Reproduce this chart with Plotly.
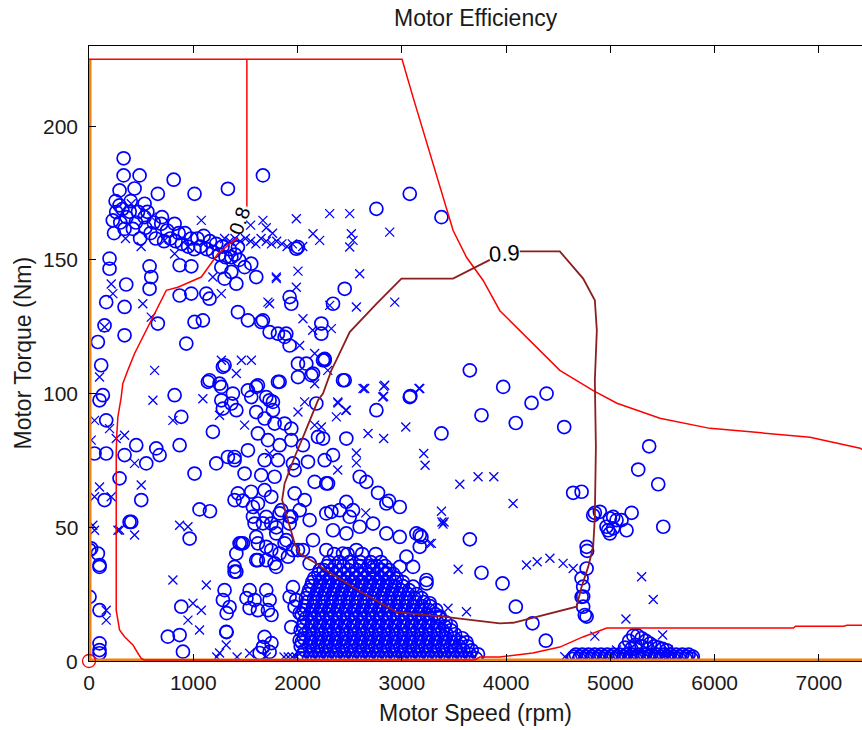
import plotly.graph_objects as go

# ---------------- data (speed rpm, torque Nm) ----------------
circ_top = [(332,188),(332,181.6),(485,181.6),(812,180),(1668,181.6),(1332,176.6),(1012,174.7),(660,174.7),
            (293,176),(437,176.7),(293,170.4),(533,171),(3076,174.7),(3380,166),(2756,169.1),(197,150.5),
            (197,146.7),(581,147.6),(357,140.8),(581,139.2),(869,148),(981,147.6),(1269,147.3),(1365,151),
            (1428,154.8),(1492,147.3),(1556,148.6),(1604,143.6),(1365,145.5),(1413,141.1),(1300,143),(597,143.6),
            (2004,154.8),(1988,154.2),(2452,139.2),(869,136.7),(981,137.4),(1125,137.4),(1156,135.5)]

circ_band = [(228,164.8),(261,167.9),(240,160),(255,172),(300,164),(320,169),(341,161.6),(360,166),(390,168),
             (400,172),(421,161.6),(450,164),(470,168),(490,158),(533,166),(540,162),(560,168),(590,160),
             (620,164),(640,158),(693,163.5),(700,166),(720,157),(750,161),(780,158),(821,163.5),(830,157),
             (860,160),(890,156),(920,160),(950,155),(980,158),(1010,154),(1040,158),(1070,155),(1100,159),
             (1130,154),(1160,157),(1190,153),(1220,156),(1250,152),(1280,155),(1310,151),(1350,154),
             (1400,152),(1440,150)]

circ_mid = [(165,134.2),(341,132.4),(660,126.2),(1924,136.1),(1940,133.6),(1428,130.5),(1524,127.4),(1652,126.8),
            (1732,123),(1812,122.4),(1876,121.2),(1924,118),(1012,126.8),(1092,127.4),(933,118.7),(85,119.3),
            (341,121.8),(149,125.5),(2340,133.6),(1668,127.4),(1892,122.4),(2228,126.2),(2228,122.4),(3652,108.7),
            (2004,111.2),(2084,111.2),(2244,112.5),(2436,105),(2148,107.5),(1828,104.4),(2004,106.2),(1284,110),
            (1156,105),(1252,103.7),(1380,100),(1604,102.5),(1556,98.7),(1732,97.5),(1764,93.8),(1604,93.1),
            (1413,93.8),(3076,98.7),(2756,93.8),(2180,96.3),
            (117,110.6),(133,99.4),(101,97.5),(165,90),(53,77.6),(165,77.6),(341,77),(453,80.7),(549,73.9),
            (645,79.5),(677,77),(293,68.3),(501,60.2),(149,60.2),(405,52),(5,41.5),(85,40.2),(101,35.9),
            (821,99.4),(885,91.3),(1188,85.7),(869,80.7),(1012,70.1),(1060,56.7),(965,45.8),(1221,73.9),
            (1332,76.3),(1396,76.3),(1300,110.6),(1140,104.4),(1269,102.5),(1269,97.5),(1365,96.3),(1284,94.4),
            (1524,101.2),(1620,103.1),(1812,104.4),(2260,112.5),(2132,106.9),(1700,98.7),(1764,96.9),(1684,90.7),
            (1780,88.8),(1876,88.8),(1940,86.9),(1620,85.1),(1716,82.6),(1828,80.7),(1940,82.6),(2052,80.7),
            (2196,83.8),(2244,83.2),(1524,78.8),(1396,75.1),(1684,75.1),(1812,75.1),(1956,73.9),(2100,74.5),
            (2260,75.1),(1492,70.1),(1652,69.5),(1780,68.9),(1972,71.4),(2164,67),(2292,66.4),(1428,62.7),
            (1556,63.3),(1684,63.9),(1748,61.4),(1972,62.7),(2068,60.2),(1396,60.2),(1620,58.9),(1844,56.4),
            (1940,53.9),(1588,51.4),(1748,51.4),(1460,44),(1620,44),(1748,41.5),(1876,44),(1908,39),(1620,37.7),
            (1396,35.2),(1780,36.5),(2004,41.5),(1160,56)]

circ_right = [(3972,102.5),(4388,100),(4244,96.5),(3764,91.9),(4093,89),(4557,87.5),(3380,85.1),(3082,99.1),
              (2452,105),(2260,113),(2468,83.2),(2340,77),(2596,68.9),(2660,67),(2772,62.9),(2877,59.9),
              (2276,66.4),(4643,62.9),(4724,63.3),(4851,55.4),(4899,55.8),(4995,53.3),(5027,49.6),(4979,48.9),
              (3652,45.5),(3172,47.1),(2468,59.5),(2532,56.4),(2324,55.8),(4772,42.7),
              (5372,80.3),(5267,71.6),(5459,66.1),(4835,54.5),(5027,53.9),(5107,52.7),(5204,55.4),(4963,50.2),
              (4995,47.7),(5155,48.9),(5507,50.2),(4777,41.2),(4772,34.6),(4724,30.9),(4739,27.8),(4739,24.1),
              (4739,20.3),(4755,17.2),(5059,52.7),
              (3764,33),(3966,29),(4093,20.3),(4253,14.1),(4381,7.6),(4724,24),(4772,16.6),(3236,29),(3188,46.4)]

circ_low = [(389,52),(21,42.1),(101,35.2),(1396,33.4),(5,24),(101,19),(885,20.3),(756,9.1),(869,9.7),(1316,10.9),
            (901,3.5),(101,6.6),(101,4.1),(101,2.9),(1668,5.2),(1924,24),(1972,20.3),(1572,54),(1668,51.5),
            (1796,50),(1924,54),
            (1300,26.5),(1284,22.8),(1348,20.2),(1320,17.9),(1540,26.5),(1510,23.5),(1588,22.8),(1540,19.8),
            (1620,19),(1700,26.5),(1732,22.8),(1716,19),(1750,17.2),(1320,10.8),(1684,9),(1750,6.7),(1668,5.2),
            (1732,3.4),(1636,3),(1956,27.6),(1988,22.8),(2020,17.9),(1940,12.7),(2020,7.8),(1444,44),(1413,33.4),
            (1700,53.9),(1828,55.2),(1924,51.4),(1796,47.7),(1892,45.2),(1700,42.7),(1828,40.2),(1956,41.5),
            (1700,37.7),(1796,35.2),(2020,56.4),(2116,52.7),(2276,55.2),(2404,56.4),(2500,53.9),(2340,48.9),
            (2468,47.7),(2596,50.2),(2724,51.4),(2852,47.7),(2980,46.4),(3140,47.7),(3172,42.7),(3044,39),
            (2980,35.2),(2852,32.8),(2724,35.2),(2564,41.5),(2436,40.2),(2276,41.5),(2148,45.2),(2052,41.5),
            (2116,36.5),(2212,34),(1604,46.4),(1476,44),(1413,40.2),(1604,37.7),(3108,35.2),(3236,30.3),
            (3108,27.8),(3268,21.6),(3364,16.6),(2852,58.9),(2980,57.6),(1476,60),(1572,57.6)]

# dense core around 2000-3700 rpm: torque row -> speeds
core_rows = [
    (1.0, [2030,2110,2190,2270,2350,2430,2510,2590,2670,2750,2830,2910,2990,3070,3150,3230,3310,3390,3470,3550,3630,3710]),
    (2.5, [2050,2130,2210,2290,2370,2450,2530,2610,2690,2770,2850,2930,3010,3090,3170,3250,3330,3410,3490,3570,3650,3730]),
    (4.0, [2070,2150,2230,2310,2390,2470,2550,2630,2710,2790,2870,2950,3030,3110,3190,3270,3350,3430,3510,3590,3670]),
    (5.5, [2030,2110,2190,2270,2350,2430,2510,2590,2670,2750,2830,2910,2990,3070,3150,3230,3310,3390,3470,3550,3630]),
    (7.0, [2040,2120,2200,2280,2360,2440,2520,2600,2680,2760,2840,2920,3000,3080,3160,3240,3320,3400,3480,3560,3620]),
    (8.5, [2060,2140,2220,2300,2380,2460,2540,2620,2700,2780,2860,2940,3020,3100,3180,3260,3340,3420,3500,3580]),
    (10.0, [2070,2150,2230,2310,2390,2470,2550,2630,2710,2790,2870,2950,3030,3110,3190,3270,3350,3430,3510]),
    (11.5, [2030,2110,2190,2270,2350,2430,2510,2590,2670,2750,2830,2910,2990,3070,3150,3230,3310,3390,3470]),
    (13.0, [2050,2130,2210,2290,2370,2450,2530,2610,2690,2770,2850,2930,3010,3090,3170,3250,3330,3410,3470]),
    (14.5, [2060,2140,2220,2300,2380,2460,2540,2620,2700,2780,2860,2940,3020,3100,3180,3260,3340,3420]),
    (16.0, [2080,2160,2240,2320,2400,2480,2560,2640,2720,2800,2880,2960,3040,3120,3200,3280,3360]),
    (17.5, [2040,2120,2200,2280,2360,2440,2520,2600,2680,2760,2840,2920,3000,3080,3160,3240,3320]),
    (19.0, [2060,2140,2220,2300,2380,2460,2540,2620,2700,2780,2860,2940,3020,3100,3180,3260,3330]),
    (20.5, [2070,2150,2230,2310,2390,2470,2550,2630,2710,2790,2870,2950,3030,3110,3190,3270]),
    (22.0, [2090,2170,2250,2330,2410,2490,2570,2650,2730,2810,2890,2970,3050,3130,3210]),
    (23.5, [2080,2160,2240,2320,2400,2480,2560,2640,2720,2800,2880,2960,3040,3120,3190]),
    (25.0, [2100,2180,2260,2340,2420,2500,2580,2660,2740,2820,2900,2980,3060,3140]),
    (26.5, [2110,2190,2270,2350,2430,2510,2590,2670,2750,2830,2910,2990,3070]),
    (28.0, [2130,2210,2290,2370,2450,2530,2610,2690,2770,2850,2930,3010]),
    (29.5, [2140,2220,2300,2380,2460,2540,2620,2700,2780,2860,2940,3010]),
    (31.0, [2160,2240,2320,2400,2480,2560,2640,2720,2800,2880,2950]),
    (32.5, [2200,2280,2360,2440,2520,2600,2680,2760,2840,2920]),
    (34.0, [2250,2330,2410,2490,2570,2650,2730,2810,2880]),
    (35.5, [2280,2360,2440,2520,2600,2680,2760,2840]),
    (37.0, [2300,2400,2500,2600,2700,2800]),
    (40.0, [2350,2480,2620,2750]),
]

# dense band 4600-5800 rpm near zero torque
band_rows = [
    (0.8, [4640,4700,4760,4820,4880,4940,5000,5060,5120,5180,5240,5300,5360,5420,5480,5540,5600,5660,5720,5780]),
    (1.6, [4650,4710,4770,4830,4890,4950,5010,5070,5130,5190,5250,5310,5370,5430,5490,5550,5610,5670,5730,5790]),
    (2.4, [4670,4730,4790,4850,4910,4970,5030,5090,5150,5210,5270,5330,5390,5450,5510,5570,5630,5690,5750]),
]
band_bump = [(5140,5),(5180,7.5),(5220,9.5),(5260,9.5),(5300,8.5),(5340,7.5),(5380,6.5),(5420,5.5),(5460,5),
             (5500,4.5),(5540,4),(5240,6),(5300,5.5),(5200,4.5),(5360,4.5)]

cross_pts = [(1300,158),(1350,157),(1400,158),(1450,157),(1500,158),(1550,157),(1600,156),(1650,158),(1700,157),
             (1750,156),(1800,157),(1850,156),(1900,155),(1950,156),(2050,155),(1550,163),(1700,162),(1760,160),
             (1077,164.8),(1668,164.8),(1988,165.4),(2308,167.3),(2500,167.3),(2148,159.8),(2212,157.3),
             (2516,159.8),(2532,157.3),(2500,154.8),(2884,160.4),(725,157.3),(821,152.3),(949,155),(405,171),
             (600,166),(350,158),(500,155),
             (2596,144.8),(2004,145.8),(1797,143),(1988,139.8),(1716,134.2),(2564,132.4),(2932,134.2),(2052,128),
             (2324,124.3),(2145,123.7),(2020,118),(1269,112.5),(1461,112.5),(1557,112.5),(1413,107.5),(1092,98.1),
             (2644,101.9),(2836,103.1),(2817,98.7),(3172,101.9),(2385,96.9),(2468,93.8),(2372,91.3),(2290,108.7),
             (1796,143.6),(1732,133.6),(516,133.6),(213,141),(229,137.4),(1188,143.6),(1269,137.4),(149,124.9),
             (597,128.6),(2308,133),
             (629,108.7),(613,97.5),(101,106.2),(53,90),(21,82.6),(197,86.9),(261,83.2),(341,84.4),(437,73.9),
             (101,65.1),(53,61.4),(213,61.4),(501,65.8),(277,48.9),(437,47.1),(37,50.8),(53,48.9),(869,50.8),
             (949,50.2),(805,90),(1492,88.2),(2004,93.1),(2068,96.9),(2164,103.7),(2164,115),(1252,91.9),
             (1732,77.6),(2164,88.2),(2228,87.5),
             (2628,101.9),(2826,102.7),(2826,99),(3165,101.9),(2388,96.5),(2462,93.8),(2676,85.1),
             (2826,83.2),(3038,87.5),(2564,77.8),(2564,74.1),(3210,77.6),(3223,73.2),(3556,66.1),(3731,68.9),
             (3882,68.9),(4067,58.9),(3380,56),(3385,52),(3395,51.2),(3405,52),(2385,71.4),(2654,55.4),(3268,44),
             (4196,35.9),(4298,37.1),(4420,38.4),(4547,36.5),(4643,34.6),(5300,31.5),(5411,23),(5149,15.7),
             (4851,9.3),(5501,9.7),(5555,4.1),(5059,4.1),(3540,34.3),(3620,18.4),(3443,19.7),(3284,44),(4563,1.6),
             (293,49),(805,30.3),(1125,28.4),(997,21.6),(1077,19),(949,15.3),(1060,11.6),(165,19),(165,15.3),
             (1252,3),(1316,6),(1540,2.9),(1870,1.5),(1910,1.5),(1950,1.5),(1990,1.5),(1225,1.5),(1420,1.5),(1700,1.5)]

# contour lines (speed, torque)
c08_outer = [(0,225),(3002,225),(3108,210.8),(3204,198.4),(3300,186),(3428,168.5),(3492,161),(3620,151),
             (3780,142.3),(3940,131),(4131,123.7),(4515,108.7),(4832,101.2),(5063,96.4),(5475,90.8),
             (5955,87),(6368,85.6),(6915,83.7),(7395,79.6),(7500,77)]
c08_vert = [(1514,225),(1514,170)]
c08_inner = [(1428,158.5),(1236,152.3),(1077,143.6),(852,139.8),(741,138.6),(677,133.6),(597,127.4),(516,121.2),
             (437,115),(372,108.7),(324,103.7),(309,98.7),(277,91.3),(267,85.1),(261,78),(261,19),(293,11.6),
             (341,9.1),(421,6),(469,2.9),(501,1),(530,0.4),(3700,0.4),(3747,1.5),(3939,1.5),(4256,3),(4515,5.2),
             (4736,9),(4870,10.8),(4966,12.3),(6756,12.3),(6775,13),(7236,13),(7270,13.4),(7500,13.4)]
c09 = [(4131,153.2),(4515,153.2),(4739,143),(4851,134.9),(4870,123.7),(4851,105),(4861,80),(4851,53.9),
       (4835,42.7),(4787,35.2),(4724,27.8),(4675,20.3),(4067,14.3),(3940,14.1),(3395,16.6),(2948,18.3),
       (2600,26),(2244,34.6),(2180,36.5),(2020,40.2),(1972,44),(1908,52.7),(1852,60.2),(1876,66.4),
       (1972,76.3),(2068,85.2),(2196,97.5),(2244,100),(2324,108.7),(2372,112.5),(2500,123),(2756,133.6),
       (2996,143),(3491,143),(3844,150)]
label_08 = (1444, 164.5, "0.8")
label_09 = (3988, 152.5, "0.9")

x_ticks = [0, 1000, 2000, 3000, 4000, 5000, 6000, 7000]
y_ticks = [0, 50, 100, 150, 200]

# ---------------- build ----------------
circles = circ_top + circ_band + circ_mid + circ_right + circ_low + band_bump
for ty, xs in core_rows + band_rows:
    circles += [(x, ty) for x in xs]

FONT = "Liberation Sans, Arial, sans-serif"
TXT = "#1a1a1a"
fig = go.Figure()

fig.add_trace(go.Scatter(x=[p[0] for p in circles], y=[p[1] for p in circles], mode="markers",
                         marker=dict(symbol="circle-open", size=13, color="#0000FF",
                                     line=dict(width=1.7, color="#0000FF"))))
fig.add_trace(go.Scatter(x=[p[0] for p in cross_pts], y=[p[1] for p in cross_pts], mode="markers",
                         marker=dict(symbol="x-thin", size=9, line=dict(width=1.3, color="#0000FF"))))

def line_trace(pts, color, width):
    return go.Scatter(x=[p[0] for p in pts], y=[p[1] for p in pts], mode="lines",
                      line=dict(color=color, width=width), hoverinfo="skip")

fig.add_trace(line_trace([(0, 0), (0, 225)], "#F08010", 5))
fig.add_trace(line_trace([(0, 0), (7500, 0)], "#F08010", 5))
fig.add_trace(line_trace(c08_outer, "#FF0000", 1.5))
fig.add_trace(line_trace(c08_vert, "#FF0000", 1.5))
fig.add_trace(line_trace(c08_inner, "#FF0000", 1.5))
fig.add_trace(line_trace(c09, "#8B1E1E", 1.8))
fig.add_trace(go.Scatter(x=[0], y=[0], mode="markers", cliponaxis=False,
                         marker=dict(symbol="circle-open", size=13, color="#FF0000",
                                     line=dict(width=1.3, color="#FF0000"))))

fig.add_annotation(x=label_08[0], y=label_08[1], text=label_08[2], showarrow=False, textangle=-70,
                   font=dict(family=FONT, size=20, color="black"))
fig.add_annotation(x=label_09[0], y=label_09[1], text=label_09[2], showarrow=False, textangle=-4,
                   font=dict(family=FONT, size=22, color="black"))

# y tick labels placed on the y scale
for v in y_ticks:
    fig.add_annotation(xref="paper", yref="y", x=0, y=v, xshift=-9, xanchor="right", yanchor="middle",
                       text=str(v), showarrow=False, font=dict(family=FONT, size=21, color=TXT))

fig.add_annotation(xref="paper", yref="paper", x=0.5, y=0, yshift=-52, text="Motor Speed (rpm)",
                   showarrow=False, yanchor="middle", font=dict(family=FONT, size=23, color=TXT))
fig.add_annotation(xref="paper", yref="paper", x=0, y=0.5, xshift=-67, text="Motor Torque (Nm)",
                   showarrow=False, textangle=-90, xanchor="center", font=dict(family=FONT, size=23, color=TXT))
fig.add_annotation(xref="paper", yref="paper", x=0.5, y=1, yshift=28, text="Motor Efficiency",
                   showarrow=False, yanchor="middle", font=dict(family=FONT, size=23, color=TXT))

fig.update_layout(
    width=862, height=730, showlegend=False,
    margin=dict(l=89, r=0, t=46, b=69, autoexpand=False),
    plot_bgcolor="white", paper_bgcolor="white",
    font=dict(family=FONT, size=21, color=TXT),
    xaxis=dict(range=[0, 7413], tickvals=x_ticks, ticktext=[str(v) for v in x_ticks], ticks="inside",
               ticklen=7, tickcolor="black", showline=True, linecolor="black", linewidth=1, mirror="ticks",
               showgrid=False, zeroline=False, ticklabelstandoff=3, automargin=False),
    yaxis=dict(range=[0, 230], tickvals=y_ticks, showticklabels=False, ticks="inside",
               ticklen=7, tickcolor="black", showline=True, linecolor="black", linewidth=1,
               showgrid=False, zeroline=False, automargin=False),
)

# remove the page's default 8px body margin so the figure sits at the window origin
fig.write_html("out.html", config={"displayModeBar": False},
               post_script="document.body.style.margin='0';document.body.style.overflow='hidden';")
